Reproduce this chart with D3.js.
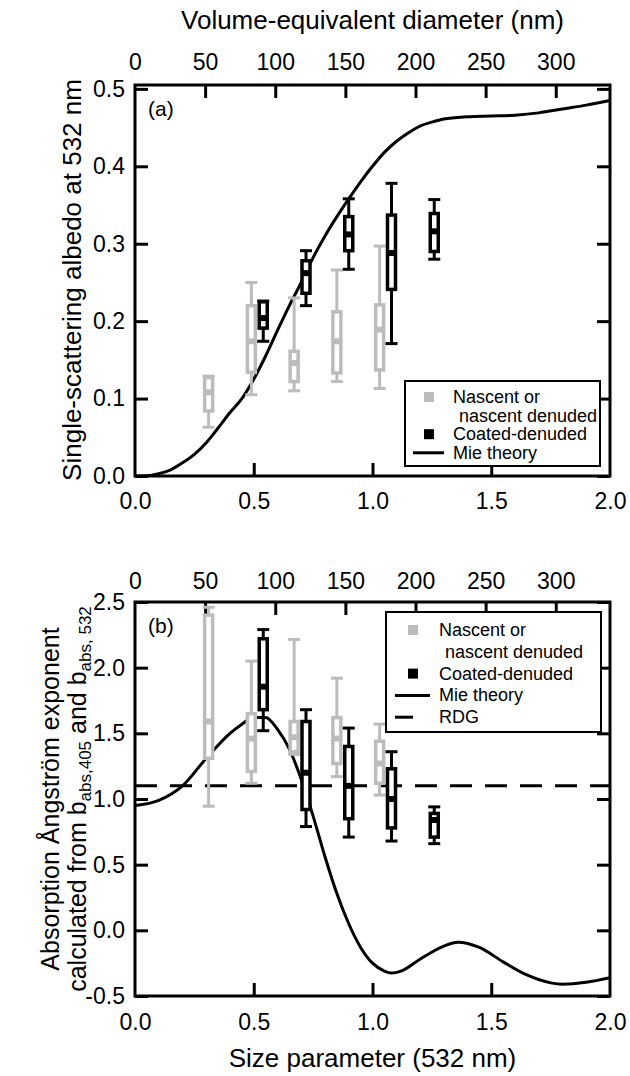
<!DOCTYPE html>
<html>
<head>
<meta charset="utf-8">
<script src="https://cdn.jsdelivr.net/npm/d3@7"></script>
<style>
  body { margin: 0; background: #fff; }
  svg { display: block; font-family: "Liberation Sans", Arial, sans-serif; }
  .tick text { font-size: 23px; fill: #000; }
  .tick line { stroke: #000; stroke-width: 3; }
</style>
</head>
<body>
<div id="chart"></div>
<script>
// box positions along the size parameter axis
const nascentX = [0.31, 0.49, 0.67, 0.85, 1.03];
const coatedX = [0.54, 0.72, 0.90, 1.08, 1.26];

// each box: [min, q1, median, q3, max]
const ssaNascent = [
  [0.063, 0.084, 0.108, 0.127, 0.129],
  [0.105, 0.134, 0.174, 0.220, 0.250],
  [0.110, 0.122, 0.146, 0.161, 0.230],
  [0.122, 0.133, 0.174, 0.212, 0.266],
  [0.113, 0.137, 0.189, 0.221, 0.297]
];
const ssaCoated = [
  [0.174, 0.191, 0.204, 0.225, 0.226],
  [0.220, 0.236, 0.262, 0.278, 0.291],
  [0.267, 0.291, 0.312, 0.335, 0.358],
  [0.171, 0.241, 0.288, 0.337, 0.378],
  [0.280, 0.290, 0.316, 0.339, 0.357]
];
const aaeNascent = [
  [0.945, 1.31, 1.59, 2.40, 2.46],
  [1.12, 1.21, 1.46, 1.65, 2.05],
  [1.34, 1.36, 1.47, 1.59, 2.215],
  [1.17, 1.27, 1.46, 1.62, 1.92],
  [1.03, 1.12, 1.27, 1.44, 1.57]
];
const aaeCoated = [
  [1.52, 1.68, 1.855, 2.22, 2.29],
  [0.79, 0.92, 1.20, 1.59, 1.68],
  [0.71, 0.85, 1.10, 1.40, 1.54],
  [0.68, 0.78, 1.00, 1.23, 1.36],
  [0.66, 0.71, 0.84, 0.89, 0.94]
];

// Mie theory curves
const mieXA = [0, 0.05, 0.1, 0.15, 0.2, 0.25, 0.3, 0.35, 0.4, 0.45, 0.5, 0.55, 0.6, 0.65, 0.7, 0.75, 0.8, 0.85, 0.9, 0.95, 1.0, 1.05, 1.1, 1.15, 1.2, 1.25, 1.3, 1.4, 1.5, 1.6, 1.7, 1.8, 1.9, 2.0];
const mieSsa = [0, 0.0003, 0.003, 0.008, 0.017, 0.028, 0.043, 0.062, 0.082, 0.100, 0.125, 0.155, 0.188, 0.220, 0.250, 0.282, 0.310, 0.335, 0.358, 0.380, 0.400, 0.418, 0.432, 0.443, 0.452, 0.457, 0.461, 0.464, 0.465, 0.466, 0.469, 0.474, 0.479, 0.485];
const mieXB = [0, 0.1, 0.2, 0.3, 0.4, 0.45, 0.5, 0.55, 0.6, 0.65, 0.7, 0.75, 0.8, 0.85, 0.9, 0.95, 1.0, 1.05, 1.08, 1.12, 1.2, 1.3, 1.36, 1.45, 1.55, 1.65, 1.75, 1.8, 1.9, 2.0];
const mieAae = [0.95, 0.99, 1.10, 1.31, 1.50, 1.57, 1.62, 1.62, 1.53, 1.38, 1.15, 0.87, 0.56, 0.28, 0.05, -0.13, -0.25, -0.31, -0.325, -0.31, -0.22, -0.12, -0.09, -0.13, -0.24, -0.34, -0.40, -0.41, -0.395, -0.36];
const rdgAae = 1.1;

const sizeTicks = [0, 0.5, 1.0, 1.5, 2.0];
const diamTicks = [0, 50, 100, 150, 200, 250, 300];
const ssaTicks = [0, 0.1, 0.2, 0.3, 0.4, 0.5];
const aaeTicks = [-0.5, 0, 0.5, 1.0, 1.5, 2.0, 2.5];

const GREY = '#bcbcbc';
const W = 630, H = 1076;
const L = 135, R = 610;
const fmt1 = v => d3.format('.1f')(v).replace('\u2212', '-');

const svg = d3.select('#chart').append('svg').attr('width', W).attr('height', H);

const x = d3.scaleLinear().domain([0, 2]).range([L, R]);
const xd = d3.scaleLinear().domain([0, 2 * 532 / Math.PI]).range([L, R]);

function drawPanel(opt) {
  const y = d3.scaleLinear().domain(opt.yDomain).range([opt.bottom, opt.top]);
  const g = svg.append('g');

  g.append('g').attr('transform', `translate(0,${opt.bottom})`)
    .call(d3.axisBottom(x).tickValues(sizeTicks).tickSizeInner(-13).tickSizeOuter(0).tickPadding(opt.botPad).tickFormat(fmt1))
    .call(a => a.select('.domain').remove())
    .call(a => a.selectAll('.tick').filter(d => d === 0 || d === 2).select('line').remove());

  g.append('g').attr('transform', `translate(0,${opt.top})`)
    .call(d3.axisTop(xd).tickValues(diamTicks).tickSizeInner(-13).tickSizeOuter(0).tickPadding(opt.topPad).tickFormat(d3.format('d')))
    .call(a => a.select('.domain').remove())
    .call(a => a.selectAll('.tick').filter(d => d === 0).select('line').remove());

  g.append('g').attr('transform', `translate(${L},0)`)
    .call(d3.axisLeft(y).tickValues(opt.yTicks).tickSizeInner(-13).tickSizeOuter(0).tickPadding(10).tickFormat(fmt1))
    .call(a => a.select('.domain').remove());
  g.append('g').attr('transform', `translate(${R},0)`)
    .call(d3.axisRight(y).tickValues(opt.yTicks).tickSizeInner(-13).tickSizeOuter(0).tickFormat(''))
    .call(a => a.select('.domain').remove());

  g.append('rect').attr('x', L).attr('y', opt.top).attr('width', R - L).attr('height', opt.bottom - opt.top)
    .attr('fill', 'none').attr('stroke', '#000').attr('stroke-width', 3);

  const clipId = 'clip' + opt.name;
  svg.append('clipPath').attr('id', clipId).append('rect')
    .attr('x', L).attr('y', opt.top).attr('width', R - L).attr('height', opt.bottom - opt.top);
  const plot = g.append('g').attr('clip-path', `url(#${clipId})`);

  if (opt.rdg !== undefined) {
    plot.append('line').attr('x1', L).attr('x2', R).attr('y1', y(opt.rdg)).attr('y2', y(opt.rdg))
      .attr('stroke', '#000').attr('stroke-width', 3).attr('stroke-dasharray', '22,13');
  }

  const line = d3.line().x(d => x(d[0])).y(d => y(d[1])).curve(d3.curveMonotoneX);
  plot.append('path').datum(opt.mieX.map((v, i) => [v, opt.mieY[i]]))
    .attr('d', line).attr('fill', 'none').attr('stroke', '#000').attr('stroke-width', 3);

  function boxes(xs, vals, color) {
    const bg = plot.append('g');
    xs.forEach((xv, i) => {
      const [mn, q1, md, q3, mx] = vals[i];
      const cx = x(xv);
      const b = bg.append('g').attr('stroke', color).attr('stroke-width', 3);
      b.append('line').attr('x1', cx).attr('x2', cx).attr('y1', y(mx)).attr('y2', y(q3));
      b.append('line').attr('x1', cx).attr('x2', cx).attr('y1', y(q1)).attr('y2', y(mn));
      b.append('line').attr('x1', cx - 6).attr('x2', cx + 6).attr('y1', y(mx)).attr('y2', y(mx));
      b.append('line').attr('x1', cx - 6).attr('x2', cx + 6).attr('y1', y(mn)).attr('y2', y(mn));
      b.append('rect').attr('x', cx - 4).attr('width', 8).attr('y', y(q3)).attr('height', y(q1) - y(q3))
        .attr('fill', '#fff').attr('stroke-width', 3.5);
      b.append('line').attr('x1', cx - 4).attr('x2', cx + 4).attr('y1', y(md)).attr('y2', y(md))
        .attr('stroke-width', 6);
    });
  }
  boxes(nascentX, opt.nascent, GREY);
  boxes(coatedX, opt.coated, '#000');

  g.append('text').attr('x', 148).attr('y', opt.top + 31).attr('font-size', 21).text(opt.label);

  // legend
  const lg = g.append('g');
  const lb = opt.legend;
  lg.append('rect').attr('x', lb.x).attr('y', lb.y).attr('width', lb.w).attr('height', lb.h)
    .attr('fill', '#fff').attr('stroke', '#000').attr('stroke-width', 2);
  const items = [
    { t: 'Nascent or', sym: 'sq', c: GREY },
    { t: 'nascent denuded', sym: null, indent: 6 },
    { t: 'Coated-denuded', sym: 'sq', c: '#000' },
    { t: 'Mie theory', sym: 'line' }
  ];
  if (opt.rdg !== undefined) items.push({ t: 'RDG', sym: 'dash' });
  items.forEach((it, i) => {
    const yy = lb.y + lb.first + i * lb.step;
    if (it.sym === 'sq') {
      lg.append('rect').attr('x', lb.x + lb.sq - 5).attr('y', yy - 5).attr('width', 10).attr('height', 10).attr('fill', it.c);
    } else if (it.sym === 'line') {
      lg.append('line').attr('x1', lb.x + lb.l1).attr('x2', lb.x + lb.l2).attr('y1', yy).attr('y2', yy)
        .attr('stroke', '#000').attr('stroke-width', 3);
    } else if (it.sym === 'dash') {
      lg.append('line').attr('x1', lb.x + lb.l1).attr('x2', lb.x + lb.l1 + 18).attr('y1', yy).attr('y2', yy)
        .attr('stroke', '#000').attr('stroke-width', 3);
    }
    lg.append('text').attr('x', lb.x + lb.tx + (it.indent || 0)).attr('y', yy + 6)
      .attr('font-size', 18).text(it.t);
  });
  return y;
}

drawPanel({
  name: 'a', top: 85, bottom: 476, yDomain: [0, 0.505], yTicks: ssaTicks,
  botPad: 17, topPad: 15, label: '(a)',
  mieX: mieXA, mieY: mieSsa, nascent: ssaNascent, coated: ssaCoated,
  legend: { x: 405, y: 381, w: 195, h: 85, first: 16, step: 18.6, sq: 24, tx: 48, l1: 8, l2: 39 }
});
drawPanel({
  name: 'b', top: 602, bottom: 996, yDomain: [-0.5, 2.5], yTicks: aaeTicks,
  botPad: 18, topPad: 13, label: '(b)', rdg: rdgAae,
  mieX: mieXB, mieY: mieAae, nascent: aaeNascent, coated: aaeCoated,
  legend: { x: 386, y: 612, w: 215, h: 120, first: 18, step: 21.8, sq: 27, tx: 53, l1: 9, l2: 44 }
});

// axis titles
svg.append('text').attr('x', (L + R) / 2).attr('y', 29).attr('text-anchor', 'middle')
  .attr('font-size', 26).text('Volume-equivalent diameter (nm)');
svg.append('text').attr('x', (L + R) / 2).attr('y', 1067).attr('text-anchor', 'middle')
  .attr('font-size', 26).text('Size parameter (532 nm)');
svg.append('text').attr('transform', 'translate(81,280) rotate(-90)').attr('text-anchor', 'middle')
  .attr('font-size', 26).text('Single-scattering albedo at 532 nm');
svg.append('text').attr('transform', 'translate(59,799) rotate(-90)').attr('text-anchor', 'middle')
  .attr('font-size', 25).text('Absorption Ångström exponent');
const t2 = svg.append('text').attr('transform', 'translate(86,799) rotate(-90)').attr('text-anchor', 'middle')
  .attr('font-size', 25);
t2.append('tspan').text('calculated from b');
t2.append('tspan').attr('font-size', 17).attr('dy', 5).text('abs,405');
t2.append('tspan').attr('dy', -5).text(' and b');
t2.append('tspan').attr('font-size', 17).attr('dy', 5).text('abs, 532');
</script>
</body>
</html>
